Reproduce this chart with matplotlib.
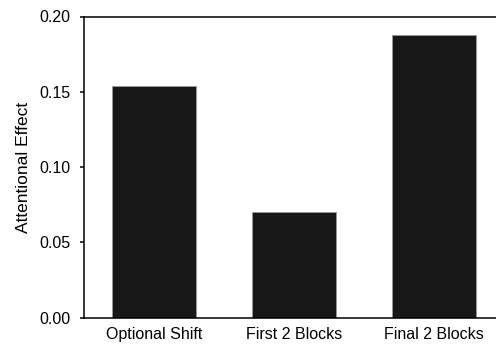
import matplotlib.pyplot as plt
import numpy as np

plt.rcParams['font.family'] = ['Liberation Sans', 'DejaVu Sans']

conditions = ['Optional Shift', 'First 2 Blocks', 'Final 2 Blocks']
effects = [0.154, 0.070, 0.188]
yticks = [0.00, 0.05, 0.10, 0.15, 0.20]

fig = plt.figure(figsize=(4.96, 3.45), dpi=100)
ax = fig.add_axes([84 / 496, 1 - 317.5 / 345, 420 / 496, 301 / 345])

x = np.arange(len(conditions))
ax.bar(x, effects, width=0.607, color='#181818', edgecolor='#9a9a9a', linewidth=0.6)

ax.set_xlim(-0.5, 2.5)
ax.set_ylim(0, 0.20)
ax.set_xticks(x)
ax.set_xticklabels(conditions, fontsize=11.5)
ax.set_yticks(yticks)
ax.set_yticklabels(['%.2f' % v for v in yticks], fontsize=11.5)
ax.set_ylabel('Attentional Effect', fontsize=12.5, labelpad=6.5)

ax.spines['right'].set_visible(False)
for side in ['left', 'bottom', 'top']:
    ax.spines[side].set_linewidth(1.1)
ax.tick_params(axis='y', direction='out', length=3, width=1.1, pad=6.5)
ax.tick_params(axis='x', length=0, pad=6.5)

fig.savefig('out.png', dpi=100)
